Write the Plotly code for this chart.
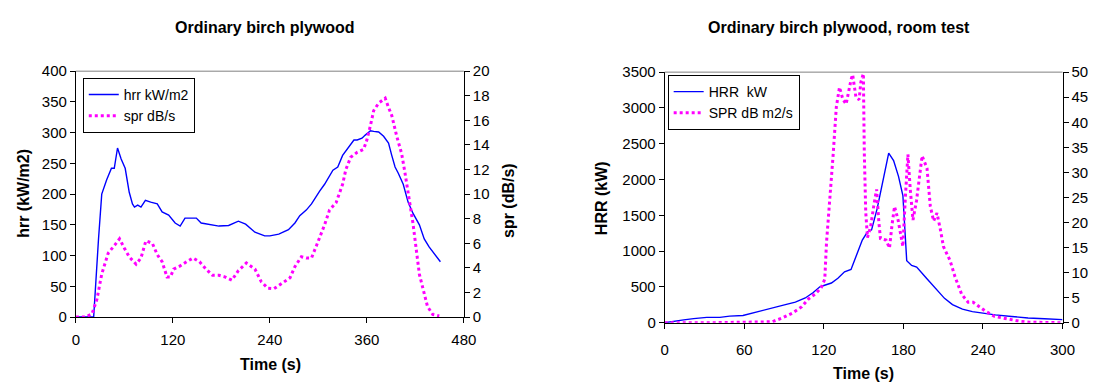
import plotly.graph_objects as go

# ---- Cone calorimeter test: ordinary birch plywood ----
hrr_t = [0, 22, 28, 32, 38, 44, 47.5, 51.5, 56, 61, 66, 70, 72.5, 76.5, 80.5, 86, 92.6, 100.7,
         106.7, 114.8, 122.8, 129, 135, 141, 149, 155, 165, 177, 189, 195, 201, 210, 221.5,
         233.6, 240, 251, 257, 263, 271, 277, 285, 291.5, 301.6, 307.7, 318, 324, 330, 336,
         344, 348, 354, 358, 364.5, 368.5, 374.6, 380.7, 386.8, 390.8, 394.9, 398.9, 405,
         411, 417, 425, 431, 437, 445, 451]
hrr = [0, 0, 127, 200, 223, 242, 242, 275, 257, 242, 203, 184, 179, 182, 179, 190, 187, 184,
       171, 166, 153, 148, 161, 161, 161, 153, 151, 148, 149, 153, 156, 151, 138, 132, 132,
       135, 138, 142, 153, 165, 174, 184, 205, 216, 239, 244, 263, 273, 288, 288, 291, 296,
       303, 302, 301, 294, 283, 263, 244, 234, 216, 187, 169, 150, 127, 114, 101, 90]

spr_t = [0, 12, 20, 26, 32, 40, 48, 54, 60, 66, 74.5, 80.5, 86.6, 94.6, 100.7, 106.7, 112.8,
         116.8, 121, 129, 137, 145, 153, 161, 169, 177, 185, 193, 201, 211, 221.5, 229.5,
         237.6, 245, 251, 259, 265, 271, 279, 285, 291.5, 297.6, 307.7, 313.8, 321.9, 330,
         334, 340, 348, 356, 360, 364.5, 368.5, 374.6, 382.7, 386.8, 390.8, 397, 403, 407,
         411, 417, 421, 425, 429, 435, 441.5, 449.6]
spr = [0, 0, 0.26, 1.43, 3.5, 5.2, 5.85, 6.36, 5.6, 4.9, 4.3, 4.8, 6.2, 6.0, 5.07, 4.5, 3.25,
       3.25, 3.9, 4.16, 4.5, 4.8, 4.5, 3.9, 3.4, 3.4, 3.25, 3.0, 3.77, 4.4, 3.9, 2.86, 2.34,
       2.3, 2.56, 2.95, 3.2, 4.1, 4.9, 4.8, 4.8, 5.8, 7.5, 8.7, 9.3, 10.8, 12.0, 13.0, 13.4,
       13.65, 14.4, 15.6, 16.8, 17.4, 17.8, 17.05, 16.4, 14.7, 13.3, 11.8, 10.26, 7.65, 5.56,
       3.47, 2.43, 0.86, 0.21, 0.08]

# ---- Room corner test: ordinary birch plywood ----
room_hrr_t = [0, 7, 14.3, 21.8, 31.7, 41.6, 49, 59, 66, 73.7, 81, 91, 98.5, 106, 112, 117,
              120, 125.7, 130.6, 135.6, 140.5, 149, 152.8, 156, 160.3, 168.9, 172.6, 176.3,
              179.6, 182.5, 186.2, 190, 197.4, 204.8, 211, 217, 224.5, 232, 239.4, 249.3,
              261.6, 274, 286.4, 300]
room_hrr = [0, 22, 40, 58, 75, 75, 93, 102, 133, 169, 209, 253, 289, 346, 422, 502, 520, 555,
            622, 711, 745, 1155, 1266, 1297, 1600, 2368, 2266, 2044, 1777, 866, 800, 777,
            621, 466, 341, 253, 190, 155, 133, 111, 88, 67, 57, 44]

room_spr_t = [0, 31.7, 81, 88.6, 96, 103.4, 108.4, 113.3, 118, 120.7, 122, 124.4, 127, 129.4,
              131.8, 134.3, 136.8, 140.5, 141.7, 144.2, 146.6, 147.9, 149.8, 150.5, 151.6,
              152.9, 155.3, 157.8, 159.8, 161.5, 162.7, 166.9, 169.5, 171.4, 173.3, 176,
              179.6, 181.5, 183.4, 185.2, 187.2, 189.9, 192.4, 194.1, 197.8, 200.3, 202.8,
              205.3, 207.8, 210.2, 215.2, 218.9, 223.9, 228.8, 232.6, 237.5, 242.5, 248.7,
              254.9, 259.8, 267.3, 274.7, 287, 300]
room_spr = [0, 0, 0.2, 0.95, 1.9, 3.2, 4.76, 5.7, 7.0, 8.7, 16, 24, 33.5, 43, 47, 44.6, 43.6,
            48.5, 49.5, 45, 44.5, 48, 49.7, 34, 22, 17, 19.2, 23.6, 26.6, 20, 16.8, 16.5,
            14.9, 19.5, 23.2, 20.5, 15.2, 25.2, 33.6, 26.5, 20.5, 24.4, 29.5, 33.3, 30.8,
            23.2, 20.3, 21.9, 18.7, 15.2, 12.4, 9.2, 5.7, 4.1, 4.1, 3.2, 2.2, 1.27, 0.95,
            0.63, 0.32, 0.13, 0, 0]

titles = ["Ordinary birch plywood", "Ordinary birch plywood, room test"]

FONT = "Liberation Sans, Arial, sans-serif"
BLUE = "#0000FF"
MAGENTA = "#FF00FF"
W, H = 1110, 392

fig = go.Figure()

fig.add_trace(go.Scatter(x=hrr_t, y=hrr, name="hrr kW/m2", mode="lines",
                         line=dict(color=BLUE, width=1.4), xaxis="x", yaxis="y",
                         legend="legend"))
fig.add_trace(go.Scatter(x=spr_t, y=spr, name="spr dB/s", mode="lines",
                         line=dict(color=MAGENTA, width=3, dash="dot"), xaxis="x", yaxis="y2",
                         legend="legend"))
fig.add_trace(go.Scatter(x=room_hrr_t, y=room_hrr, name="HRR  kW", mode="lines",
                         line=dict(color=BLUE, width=1.4), xaxis="x2", yaxis="y3",
                         legend="legend2"))
fig.add_trace(go.Scatter(x=room_spr_t, y=room_spr, name="SPR dB m2/s", mode="lines",
                         line=dict(color=MAGENTA, width=3, dash="dot"), xaxis="x2", yaxis="y4",
                         legend="legend2"))

# plot-area placement (pixels -> paper fractions)
L_dom_x = [73 / W, 467 / W]
L_dom_y = [1 - 322 / H, 1 - 65 / H]
R_dom_x = [671 / W, 1075 / W]
R_dom_y = [1 - 328 / H, 1 - 66 / H]

tickfont = dict(family=FONT, size=15, color="black")
base = dict(showgrid=False, zeroline=False, showline=True, linecolor="black", linewidth=1,
            ticks="outside", ticklen=5, tickcolor="black", tickfont=tickfont, fixedrange=True)
inner = dict(showgrid=False, zeroline=False, showline=False, ticks="inside", ticklen=5,
             tickcolor="black", showticklabels=False, fixedrange=True)

legend_style = dict(xanchor="left", yanchor="top", bordercolor="black", borderwidth=1,
                    bgcolor="white", font=dict(family=FONT, size=14, color="black"),
                    tracegroupgap=0)

fig.update_layout(
    width=W, height=H, margin=dict(l=0, r=0, t=0, b=0),
    paper_bgcolor="white", plot_bgcolor="white",
    font=dict(family=FONT, color="black"),
    xaxis=dict(base, domain=L_dom_x, range=[0, 480], dtick=120, anchor="y", ticklabelstandoff=4),
    yaxis=dict(base, domain=L_dom_y, range=[0, 400], dtick=50, anchor="x"),
    yaxis2=dict(base, range=[0, 20], dtick=2, overlaying="y", side="right", anchor="x"),
    xaxis2=dict(base, domain=R_dom_x, range=[0, 300], dtick=60, anchor="y3", ticklabelstandoff=8),
    yaxis3=dict(base, domain=R_dom_y, range=[0, 3500], dtick=500, anchor="x2"),
    yaxis4=dict(base, range=[0, 50], dtick=5, overlaying="y3", side="right", anchor="x2"),
    # inward halves of the crossing tick marks
    xaxis3=dict(inner, range=[0, 480], dtick=120, overlaying="x", anchor="y", side="bottom"),
    yaxis5=dict(inner, range=[0, 20], dtick=2, overlaying="y", side="right", anchor="x"),
    xaxis4=dict(inner, range=[0, 300], dtick=60, overlaying="x2", anchor="y3", side="bottom"),
    yaxis6=dict(inner, range=[0, 50], dtick=5, overlaying="y3", side="right", anchor="x2"),
    legend=dict(legend_style, x=80 / W, y=1 - 72 / H),
    legend2=dict(legend_style, x=674 / W, y=1 - 69 / H),
    showlegend=True,
)

# grey frame edge along the top of each plot area
for xr, yr in (("x domain", "y domain"), ("x2 domain", "y3 domain")):
    fig.add_shape(type="line", xref=xr, yref=yr, x0=0, x1=1, y0=1, y1=1,
                  line=dict(color="#808080", width=1))

bold = dict(family=FONT, size=16, color="black")
ann = [
    dict(text="<b>%s</b>" % titles[0], x=265 / W, y=1 - 19 / H, font=bold),
    dict(text="<b>%s</b>" % titles[1], x=848 / W, y=1 - 19 / H, font=bold),
    dict(text="<b>hrr (kW/m2)</b>", x=19.5 / W, y=1 - 193 / H, textangle=-90, font=bold),
    dict(text="<b>spr (dB/s)</b>", x=512.5 / W, y=1 - 200 / H, textangle=-90, font=bold),
    dict(text="<b>Time (s)</b>", x=271 / W, y=1 - 372 / H, font=bold),
    dict(text="<b>HRR (kW)</b>", x=607.5 / W, y=1 - 197.5 / H, textangle=-90, font=bold),
    dict(text="<b>Time (s)</b>", x=873 / W, y=1 - 381 / H, font=bold),
]
for a in ann:
    fig.add_annotation(xref="paper", yref="paper", showarrow=False,
                       xanchor="center", yanchor="middle", **a)

fig.write_html("out.html")
